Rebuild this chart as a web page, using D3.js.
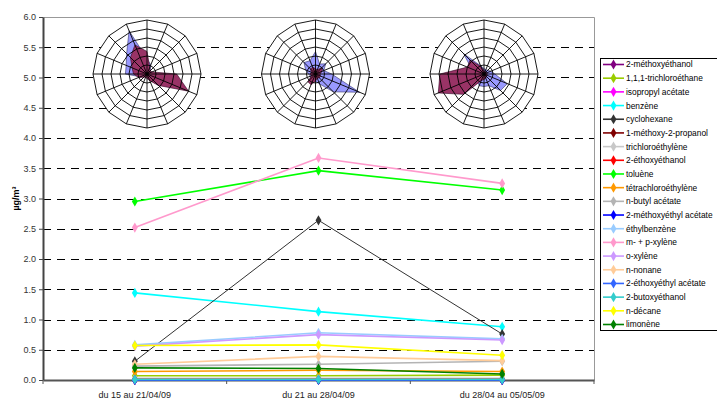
<!DOCTYPE html>
<html>
<head>
<meta charset="utf-8">
<script src="https://cdn.jsdelivr.net/npm/d3@7"></script>
<style>
  body { margin: 0; background: #fff; }
  text { font-family: Arial, "Liberation Sans", sans-serif; }
</style>
</head>
<body>
<div id="chart"></div>
<script>
// sampling periods (x categories)
const periods = ['du 15 au 21/04/09', 'du 21 au 28/04/09', 'du 28/04 au 05/05/09'];
const yTicks = [0, 0.5, 1, 1.5, 2, 2.5, 3, 3.5, 4, 4.5, 5, 5.5, 6];

const seriesNames = [
  '2-méthoxyéthanol', '1,1,1-trichloroéthane', 'isopropyl acétate', 'benzène',
  'cyclohexane', '1-méthoxy-2-propanol', 'trichloroéthylène', '2-éthoxyéthanol',
  'toluène', 'tétrachloroéthylène', 'n-butyl acétate', '2-méthoxyéthyl acétate',
  'éthylbenzène', 'm- + p-xylène', 'o-xylène', 'n-nonane',
  '2-éthoxyéthyl acétate', '2-butoxyéthanol', 'n-décane', 'limonène'
];
const seriesColors = [
  '#800080', '#99CC00', '#FF00FF', '#00FFFF',
  '#333333', '#800000', '#C8C8C8', '#FF0000',
  '#00FF00', '#FF9900', '#B4B4B4', '#0000FF',
  '#99CCFF', '#FF99CC', '#CC99FF', '#FFCC99',
  '#3366FF', '#33CCCC', '#FFFF00', '#008000'
];
// µg/m3, one value per period
const seriesValues = [
  [0, 0, 0],
  [0.07, 0.07, 0.08],
  [0, 0, 0],
  [1.44, 1.13, 0.88],
  [0.31, 2.64, 0.76],
  [0, 0, 0],
  [0.03, 0.03, 0.03],
  [0.01, 0.01, 0.01],
  [2.95, 3.46, 3.14],
  [0.14, 0.16, 0.14],
  [0.23, 0.26, 0.31],
  [0, 0, 0],
  [0.58, 0.78, 0.68],
  [2.52, 3.67, 3.25],
  [0.56, 0.75, 0.66],
  [0.26, 0.39, 0.32],
  [0, 0, 0],
  [0.01, 0.01, 0.01],
  [0.57, 0.58, 0.41],
  [0.2, 0.19, 0.1]
];

// wind roses, one per period (16 directions, clockwise from north)
const directions = ['N', 'NNE', 'NE', 'ENE', 'E', 'ESE', 'SE', 'SSE', 'S', 'SSW', 'SW', 'WSW', 'W', 'WNW', 'NW', 'NNW'];
const roseRings = [1, 2, 3, 4, 5, 6];
const roseBlue = [
  [1.7, 1.1, 0.5, 0.4, 0.8, 1.5, 1.8, 0.6, 0.4, 0.3, 0.4, 0.8, 2.4, 2.5, 3.2, 5.2],
  [2.5, 1.2, 1.6, 1.0, 1.8, 5.3, 2.8, 1.2, 0.8, 0.6, 0.8, 0.6, 0.8, 1.2, 1.8, 1.6],
  [0.6, 0.5, 0.6, 0.8, 1.2, 2.8, 2.6, 1.4, 1.4, 1.4, 1.0, 0.8, 0.8, 1.5, 3.2, 1.0]
];
const roseMaroon = [
  [2.5, 0.8, 0.5, 0.6, 3.3, 5.0, 1.8, 0.8, 0.5, 0.4, 0.5, 1.0, 1.5, 1.8, 2.6, 3.5],
  [0.6, 0.5, 1.0, 0.8, 0.5, 0.6, 0.6, 0.5, 0.8, 1.3, 1.2, 0.5, 0.6, 0.5, 0.8, 0.8],
  [0.4, 0.3, 0.3, 0.3, 0.4, 0.3, 0.4, 0.5, 0.6, 0.8, 3.2, 5.5, 4.9, 2.0, 2.2, 0.9]
];

const width = 717, height = 399;
const svg = d3.select('#chart').append('svg')
  .attr('width', width)
  .attr('height', height);

const x = d3.scaleBand().domain(periods).range([43, 594]);
const y = d3.scaleLinear().domain([0, 6]).range([380, 17]);
const cx = d => x(d) + x.bandwidth() / 2;

// grid lines
svg.append('g')
  .selectAll('line')
  .data(yTicks.filter(t => t > 0 && t < 6))
  .join('line')
  .attr('x1', 43).attr('x2', 594)
  .attr('y1', d => Math.round(y(d)) + 0.5).attr('y2', d => Math.round(y(d)) + 0.5)
  .attr('stroke', '#000')
  .attr('stroke-dasharray', '8,6');

// plot area border (top, right)
svg.append('path')
  .attr('d', `M43,${y(6) + 0.5}H${594.5}V${y(0)}`)
  .attr('fill', 'none')
  .attr('stroke', '#999');

// y axis
const yAxis = svg.append('g')
  .attr('transform', 'translate(43,0)')
  .call(d3.axisLeft(y).tickValues(yTicks).tickFormat(d3.format('.1f')).tickSize(4).tickSizeOuter(0));
yAxis.select('.domain').attr('stroke', '#444').attr('stroke-width', 2);
yAxis.selectAll('.tick line').attr('stroke', '#444');
yAxis.selectAll('.tick text').attr('font-size', 9).attr('fill', '#333').attr('x', -7)
  .style('font-family', 'Arial, "Liberation Sans", sans-serif');

// x axis
const xAxis = svg.append('g')
  .attr('transform', `translate(0,${y(0)})`)
  .call(d3.axisBottom(x).tickSize(0).tickPadding(12));
xAxis.select('.domain').attr('stroke', '#555').attr('stroke-width', 2);
xAxis.selectAll('.tick text').attr('font-size', 9).attr('fill', '#222')
  .style('font-family', 'Arial, "Liberation Sans", sans-serif');
xAxis.selectAll('.sep')
  .data(d3.range(periods.length + 1))
  .join('line')
  .attr('x1', i => 43 + i * x.step()).attr('x2', i => 43 + i * x.step())
  .attr('y1', 0).attr('y2', 4)
  .attr('stroke', '#555');

// y title
svg.append('text')
  .attr('transform', `translate(19,${(y(0) + y(6)) / 2}) rotate(-90)`)
  .attr('text-anchor', 'middle')
  .attr('font-size', 9)
  .attr('font-weight', 'bold')
  .text('µg/m³');

// series
const diamond = d3.symbol().type(d3.symbolDiamond).size(30);
const line = d3.line().x((d, i) => cx(periods[i])).y(d => y(d));
const seriesG = svg.append('g');
seriesNames.forEach((name, s) => {
  const g = seriesG.append('g');
  g.append('path')
    .datum(seriesValues[s])
    .attr('d', line)
    .attr('fill', 'none')
    .attr('stroke', seriesColors[s])
    .attr('stroke-width', s === 4 ? 1 : 1.6);
  g.selectAll('path.pt')
    .data(seriesValues[s])
    .join('path')
    .attr('class', 'pt')
    .attr('d', diamond)
    .attr('transform', (d, i) => `translate(${cx(periods[i])},${y(d)})`)
    .attr('fill', seriesColors[s]);
});

// wind roses
const roseX = d3.scalePoint().domain(periods).range([147, 484]);
const r = d3.scaleLinear().domain([0, 6]).range([0, 54]);
const angle = d3.scaleLinear().domain([0, directions.length]).range([0, 2 * Math.PI]);
const radial = d3.lineRadial()
  .angle((d, i) => angle(i))
  .radius(d => r(d))
  .curve(d3.curveLinearClosed);

periods.forEach((p, k) => {
  const g = svg.append('g').attr('transform', `translate(${roseX(p)},74)`);
  g.append('path')
    .attr('d', radial(directions.map(() => 6)))
    .attr('fill', '#fff');
  g.append('path')
    .attr('d', radial(roseBlue[k]))
    .attr('fill', '#9999FF')
    .attr('stroke', '#333366')
    .attr('stroke-width', 0.6);
  g.append('path')
    .attr('d', radial(roseMaroon[k]))
    .attr('fill', '#993366')
    .attr('stroke', '#330022')
    .attr('stroke-width', 0.6);
  g.selectAll('path.ring')
    .data(roseRings)
    .join('path')
    .attr('class', 'ring')
    .attr('d', v => radial(directions.map(() => v)))
    .attr('fill', 'none')
    .attr('stroke', '#000')
    .attr('stroke-width', 0.9);
  g.selectAll('line.spoke')
    .data(directions)
    .join('line')
    .attr('class', 'spoke')
    .attr('x2', (d, i) => r(6) * Math.sin(angle(i)))
    .attr('y2', (d, i) => -r(6) * Math.cos(angle(i)))
    .attr('stroke', '#000')
    .attr('stroke-width', 0.9);
});

// legend
const legend = svg.append('g').attr('transform', 'translate(600,58)');
legend.append('rect')
  .attr('x', 0.5).attr('y', 0.5)
  .attr('width', 130).attr('height', 272)
  .attr('fill', '#fff')
  .attr('stroke', '#000');
const ly = d3.scalePoint().domain(seriesNames).range([6.5, 266.5]);
const item = legend.selectAll('g.item')
  .data(seriesNames)
  .join('g')
  .attr('class', 'item')
  .attr('transform', d => `translate(0,${ly(d)})`);
item.append('line')
  .attr('x1', 3).attr('x2', 24)
  .attr('stroke', (d, i) => seriesColors[i])
  .attr('stroke-width', 1.6);
item.append('path')
  .attr('d', diamond)
  .attr('transform', 'translate(13.5,0)')
  .attr('fill', (d, i) => seriesColors[i]);
item.append('text')
  .attr('x', 26)
  .attr('dy', '0.35em')
  .attr('font-size', 8.4)
  .text(d => d);
</script>
</body>
</html>
